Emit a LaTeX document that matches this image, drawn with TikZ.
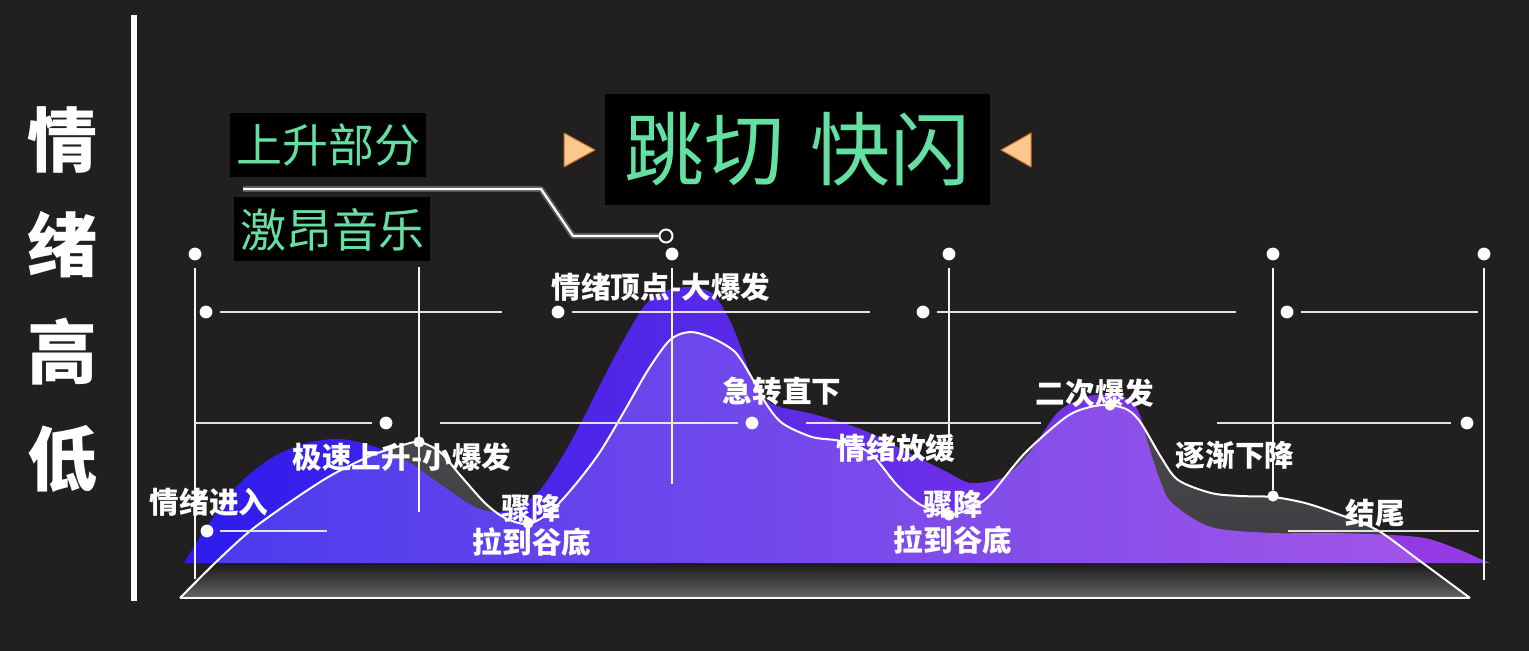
\documentclass[tikz,border=0pt]{standalone}
\usepackage{fontspec}
\newfontfamily\cjk{Noto Sans CJK SC}
\usetikzlibrary{calc}
\definecolor{bg}{RGB}{33,31,32}
\definecolor{mint}{RGB}{100,224,162}
\definecolor{tri}{RGB}{250,200,140}
\definecolor{triedge}{RGB}{200,110,40}
\definecolor{pblue}{RGB}{44,28,236}
\definecolor{pviolet}{RGB}{152,60,228}
\definecolor{mtop}{RGB}{84,82,86}
\definecolor{mbot}{RGB}{58,56,59}
\tikzset{
  lbl/.style={font=\cjk\bfseries\fontsize{14.8}{16}\selectfont, text=white, inner sep=0pt},
  side/.style={font=\cjk\bfseries\fontsize{35}{38}\selectfont, text=white, inner sep=0pt},
  tag/.style={fill=black, text=mint, font=\cjk\fontsize{23}{25}\selectfont, minimum width=98pt, minimum height=32pt, inner sep=0pt},
  vline/.style={draw=white!92!gray, line width=1pt},
  hline/.style={draw=white!78!gray, line width=0.9pt},
  dot/.style={circle, fill=white, inner sep=0pt, minimum size=6.4pt},
  cdot/.style={circle, fill=white, inner sep=0pt, minimum size=5.6pt},
}
\begin{document}
\begin{tikzpicture}[x=0.5pt,y=-0.5pt]
\fill[bg] (0,0) rectangle (1529,651);
\useasboundingbox (0,0) rectangle (1529,651);

% ---------- left axis ----------
\coordinate (axT) at (134,15);
\coordinate (axB) at (134,601);
\draw[white, line width=2.6pt] (axT) -- (axB);
\node[side] (s1) at (62,140) {情};
\node[side] (s2) at (62,245) {绪};
\node[side] (s3) at (62,352) {高};
\node[side] (s4) at (62,459) {低};

% ---------- mountain (white curve) ----------
\def\mountain{(180,598) -- plot[smooth,tension=0.5] coordinates {(180,598) (215,563) (250,531) (290,502) (330,476) (370,456) (400,446) (419,442) (440,452) (460,475) (485,503) (505,518) (528,524) (550,512) (575,485) (600,452) (625,410) (648,370) (670,340) (690,332) (712,338) (735,352) (752,378) (765,402) (782,423) (812,437) (840,441) (870,453) (897,485) (921,505) (949,514) (970,509) (990,495) (1025,453) (1066,417) (1090,407) (1110,405) (1128,410) (1141,423) (1161,457) (1178,480) (1211,493) (1240,496) (1273,497) (1305,503) (1335,513) (1377,530) (1420,561) (1470,598)} -- cycle}
\def\purple{plot[smooth,tension=0.5] coordinates {(184,563) (210,522) (240,483) (273,457) (307,443) (340,439) (373,446) (407,461) (440,484) (473,506) (495,512) (515,508) (540,490) (565,452) (585,415) (600,385) (622,343) (645,305) (665,291) (690,287) (712,293) (727,315) (737,337) (750,373) (763,397) (780,407) (813,414) (863,430) (913,455) (947,472) (971,483) (1004,477) (1030,452) (1058,412) (1087,397) (1110,394) (1130,400) (1140,415) (1149,447) (1160,480) (1172,503) (1211,527) (1273,533) (1335,533) (1418,537) (1455,548) (1478,558) (1490,563)} -- cycle}

\shade[top color=mtop, bottom color=mbot] \mountain;
\begin{scope}
  \clip \mountain;
  \shade[top color=bg!80!black, bottom color=gray!75!bg] (170,563) rectangle (1480,599);
\end{scope}
\shade[left color=pblue, right color=pviolet] \purple;
\begin{scope}
  \clip \purple;
  \fill[white, opacity=0.14] \mountain;
\end{scope}
\draw[white, line width=1pt, line join=round] plot[smooth,tension=0.5] coordinates {(180,598) (215,563) (250,531) (290,502) (330,476) (370,456) (400,446) (419,442) (440,452) (460,475) (485,503) (505,518) (528,524) (550,512) (575,485) (600,452) (625,410) (648,370) (670,340) (690,332) (712,338) (735,352) (752,378) (765,402) (782,423) (812,437) (840,441) (870,453) (897,485) (921,505) (949,514) (970,509) (990,495) (1025,453) (1066,417) (1090,407) (1110,405) (1128,410) (1141,423) (1161,457) (1178,480) (1211,493) (1240,496) (1273,497) (1305,503) (1335,513) (1377,530) (1420,561) (1470,598)};
\coordinate (baseL) at (180,598);
\coordinate (baseR) at (1470,598);
\draw[white, line width=1pt] (baseL) -- (baseR);

% ---------- grid: top dots and vertical lines ----------
\node[dot] (t1) at (195,254) {};
\node[dot] (t2) at (672,254) {};
\node[dot] (t3) at (949,254) {};
\node[dot] (t4) at (1273,254) {};
\node[dot] (t5) at (1484,254) {};
\coordinate (v1b) at (195,579);
\coordinate (v2a) at (419,267);
\coordinate (v2b) at (419,512);
\coordinate (v3b) at (672,484);
\coordinate (v4b) at (949,455);
\coordinate (v6b) at (1484,580);
\node[cdot] (c1) at (419,442) {};
\node[cdot] (c2) at (528,523) {};
\node[cdot] (c3) at (949,515) {};
\node[cdot] (c4) at (1110,405) {};
\node[cdot] (c5) at (1273,496) {};
\draw[vline] (t1) ++(0,14) -- (v1b);
\draw[vline] (v2a) -- (v2b);
\draw[vline] (t2) ++(0,14) -- (v3b);
\draw[vline] (t3) ++(0,14) -- (v4b);
\draw[vline] (t4) ++(0,14) -- (c5);
\draw[vline] (t5) ++(0,14) -- (v6b);

% ---------- row y=312 ----------
\node[dot] (r1) at (206,312) {};
\node[dot] (r2) at (558,312) {};
\node[dot] (r3) at (923,312) {};
\node[dot] (r4) at (1287,312) {};
\coordinate (r1e) at (502,312);
\coordinate (r2e) at (870,312);
\coordinate (r3e) at (1236,312);
\coordinate (r4e) at (1478,312);
\draw[hline] (r1) ++(14,0) -- (r1e);
\draw[hline] (r2) ++(14,0) -- (r2e);
\draw[hline] (r3) ++(14,0) -- (r3e);
\draw[hline] (r4) ++(14,0) -- (r4e);

% ---------- row y=423 ----------
\node[dot] (m1) at (386,423) {};
\node[dot] (m2) at (752,423) {};
\node[dot] (m3) at (1467,423) {};
\coordinate (m1s) at (195,423);
\coordinate (m1e) at (372,423);
\coordinate (m2s) at (440,423);
\coordinate (m2e) at (738,423);
\coordinate (m3s) at (806,423);
\coordinate (m3e) at (1041,423);
\coordinate (m4s) at (1217,423);
\coordinate (m4e) at (1451,423);
\draw[hline] (m1s) -- (m1e);
\draw[hline] (m2s) -- (m2e);
\draw[hline] (m3s) -- (m3e);
\draw[hline] (m4s) -- (m4e);

% ---------- row y=530 ----------
\node[dot] (b1) at (207,531) {};
\coordinate (b1e) at (327,531);
\draw[hline] (b1) ++(13,0) -- (b1e);
\coordinate (b2s) at (1288,531);
\coordinate (b2e) at (1479,531);
\draw[hline] (b2s) -- (b2e);

% ---------- curve labels ----------
\node[lbl] (l1) at (209,502) {情绪进入};
\node[lbl] (l2) at (402,457) {极速上升-小爆发};
\node[lbl] (l3) at (531,508) {骤降};
\node[lbl] (l4) at (532,542) {拉到谷底};
\node[lbl] (l5) at (661,287) {情绪顶点-大爆发};
\node[lbl] (l6) at (782,391) {急转直下};
\node[lbl] (l7) at (896,448) {情绪放缓};
\node[lbl] (l8) at (953,504) {骤降};
\node[lbl] (l9) at (953,540) {拉到谷底};
\node[lbl] (l10) at (1095,393) {二次爆发};
\node[lbl] (l11) at (1235,455) {逐渐下降};
\node[lbl] (l12) at (1375,513) {结尾};

% ---------- top tags ----------
\node[tag] (up) at (328,145) {上升部分};
\node[tag] (mus) at (332,229.5) {激昂音乐};
\node[fill=black, text=mint, font=\cjk\fontsize{40}{44}\selectfont, minimum width=192.5pt, minimum height=55.5pt, inner sep=0pt] (title) at (797.5,149.5) {跳切\,\,快闪};
\coordinate (w1) at (243,189);
\coordinate (w2) at (541,189);
\coordinate (w3) at (573,236);
\node[circle, draw=white, line width=1pt, inner sep=0pt, minimum size=6.5pt] (ring) at (666,236) {};
\draw[white, opacity=0.25, line width=3pt, line join=round] (w1) -- (w2) -- (w3) -- (ring.west);
\draw[white, line width=1.1pt, line join=round] (w1) -- (w2) -- (w3) -- (ring.west);
\coordinate (ta1) at (564,133);
\coordinate (ta2) at (564,167);
\coordinate (ta3) at (595,150);
\coordinate (tb1) at (1031,133);
\coordinate (tb2) at (1031,167);
\coordinate (tb3) at (1001,150);
\fill[tri, draw=triedge, line width=0.5pt, line join=round] (ta1) -- (ta3) -- (ta2) -- cycle;
\fill[tri, draw=triedge, line width=0.5pt, line join=round] (tb1) -- (tb3) -- (tb2) -- cycle;
\end{tikzpicture}
\end{document}
